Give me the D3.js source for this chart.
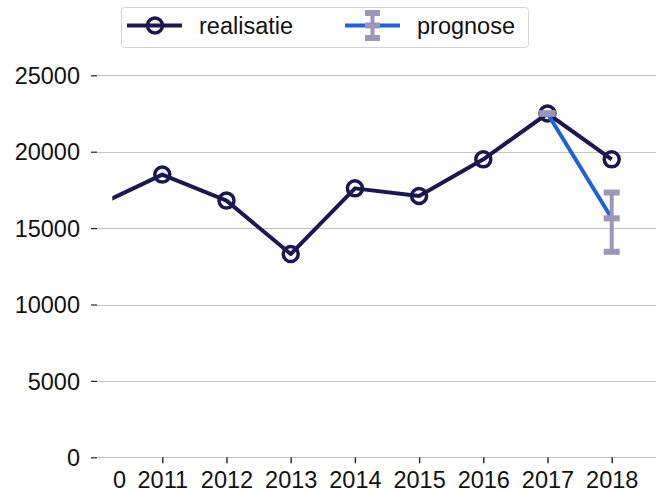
<!DOCTYPE html>
<html><head><meta charset="utf-8">
<script src="https://cdn.jsdelivr.net/npm/d3@7"></script>
<style>body{margin:0;background:#fff}svg{display:block;font-family:"Liberation Sans",Arial,sans-serif}</style>
</head><body><svg id="c" width="659" height="491"></svg>
<script>
const years = [2010, 2011, 2012, 2013, 2014, 2015, 2016, 2017, 2018];
const realisatie = [16500, 18500, 16800, 13300, 17600, 17100, 19500, 22500, 19500];
const prognoseYears = [2017, 2018];
const prognose = [22500, 15640];
const prognoseLow = [22500, 13450];
const prognoseHigh = [22500, 17330];
const yTicks = [0, 5000, 10000, 15000, 20000, 25000];
const xTickYears = [2011, 2012, 2013, 2014, 2015, 2016, 2017, 2018];
const xTickLabels = ["2011", "2012", "2013", "2014", "2015", "2016", "2017", "2018"];
const firstLabel = "2010";

const FS = 23.5;
const navy = "#1b1850", blue = "#1f62d8", gray = "#9a98b6", grid = "#c4c4c4";
const svg = d3.select("#c");
const x = d3.scaleLinear().domain([2011, 2018]).range([162.3, 611.7]);
const y = d3.scaleLinear().domain([0, 25000]).range([457.3, 75.3]);
const left = 97, right = 656, clipLeft = 112.3;

// gridlines
svg.append("g").selectAll("line").data(yTicks).join("line")
  .attr("x1", left).attr("x2", right).attr("y1", d => Math.round(y(d)) + 0.5).attr("y2", d => Math.round(y(d)) + 0.5)
  .attr("stroke", grid).attr("stroke-width", 1.2);

// y axis
const ya = svg.append("g").attr("transform", `translate(${left},0)`)
  .call(d3.axisLeft(y).tickValues(yTicks).tickSize(6).tickPadding(11).tickFormat(d3.format("d")));
ya.select(".domain").remove();
ya.selectAll(".tick line").attr("stroke", "#222").attr("stroke-width", 1.2);
ya.selectAll("text").attr("font-size", FS).attr("fill", "#111").attr("font-family", "Liberation Sans, Arial, sans-serif").attr("dy", "0.35em");

// x axis
const xa = svg.append("g").attr("transform", `translate(0,${y(0)})`)
  .call(d3.axisBottom(x).tickValues(xTickYears).tickSize(6).tickPadding(8).tickFormat((d, i) => xTickLabels[i]));
xa.select(".domain").remove();
xa.selectAll(".tick line").attr("stroke", "#222").attr("stroke-width", 1.4);
xa.selectAll("text").attr("font-size", FS).attr("fill", "#111").attr("font-family", "Liberation Sans, Arial, sans-serif");

// clipped first label
const defs = svg.append("defs");
defs.append("clipPath").attr("id", "lblclip").append("rect").attr("x", clipLeft + 0.5).attr("y", 440).attr("width", 40).attr("height", 50);
defs.append("clipPath").attr("id", "plotclip").append("rect").attr("x", clipLeft).attr("y", 0).attr("width", 600).attr("height", 491);
svg.append("text").attr("clip-path", "url(#lblclip)")
  .attr("x", 126).attr("y", y(0) + 14).attr("dy", "0.71em")
  .attr("text-anchor", "end").attr("font-size", FS).attr("fill", "#111").text(firstLabel);

const plot = svg.append("g").attr("clip-path", "url(#plotclip)");
// realisatie line
plot.append("path").datum(years.map((yr, i) => [yr, realisatie[i]]))
  .attr("d", d3.line().x(d => x(d[0])).y(d => y(d[1])))
  .attr("fill", "none").attr("stroke", navy).attr("stroke-width", 4).attr("stroke-linejoin", "round");
plot.selectAll("circle.r").data(years.map((yr, i) => [yr, realisatie[i]]).slice(1)).join("circle")
  .attr("cx", d => x(d[0])).attr("cy", d => y(d[1])).attr("r", 7.5)
  .attr("fill", "none").attr("stroke", navy).attr("stroke-width", 3.5);

// prognose line
const pdata = prognoseYears.map((yr, i) => ({yr, v: prognose[i], lo: prognoseLow[i], hi: prognoseHigh[i]}));
plot.append("path").datum(pdata)
  .attr("d", d3.line().x(d => x(d.yr)).y(d => y(d.v)))
  .attr("fill", "none").attr("stroke", blue).attr("stroke-width", 4);
const eb = plot.append("g");
pdata.forEach(d => {
  eb.append("line").attr("x1", x(d.yr)).attr("x2", x(d.yr)).attr("y1", y(d.hi)).attr("y2", y(d.lo))
    .attr("stroke", gray).attr("stroke-width", 4);
  [d.lo, d.hi, d.v].forEach(v => {
    eb.append("rect").attr("x", x(d.yr) - 8).attr("y", y(v) - 3).attr("width", 16).attr("height", 6).attr("fill", gray);
  });
});

// legend
const lg = svg.append("g");
lg.append("rect").attr("x", 121.5).attr("y", 7.5).attr("width", 407).attr("height", 40).attr("rx", 3)
  .attr("fill", "#fff").attr("stroke", "#d4d4d4").attr("stroke-width", 1);
lg.append("line").attr("x1", 127).attr("x2", 182).attr("y1", 25.5).attr("y2", 25.5).attr("stroke", navy).attr("stroke-width", 4);
lg.append("circle").attr("cx", 155).attr("cy", 25.5).attr("r", 7.5).attr("fill", "none").attr("stroke", navy).attr("stroke-width", 3.5);
lg.append("text").attr("x", 199).attr("y", 25.5).attr("dy", "0.37em").attr("font-size", FS).attr("fill", "#111").text("realisatie");
lg.append("line").attr("x1", 345).attr("x2", 400).attr("y1", 25.5).attr("y2", 25.5).attr("stroke", blue).attr("stroke-width", 4);
lg.append("line").attr("x1", 372.5).attr("x2", 372.5).attr("y1", 13).attr("y2", 38).attr("stroke", gray).attr("stroke-width", 4);
[13, 25.5, 38].forEach(cy => lg.append("rect").attr("x", 365).attr("y", cy - 3).attr("width", 15).attr("height", 6).attr("fill", gray));
lg.append("text").attr("x", 417).attr("y", 25.5).attr("dy", "0.37em").attr("font-size", FS).attr("fill", "#111").text("prognose");
</script></body></html>
